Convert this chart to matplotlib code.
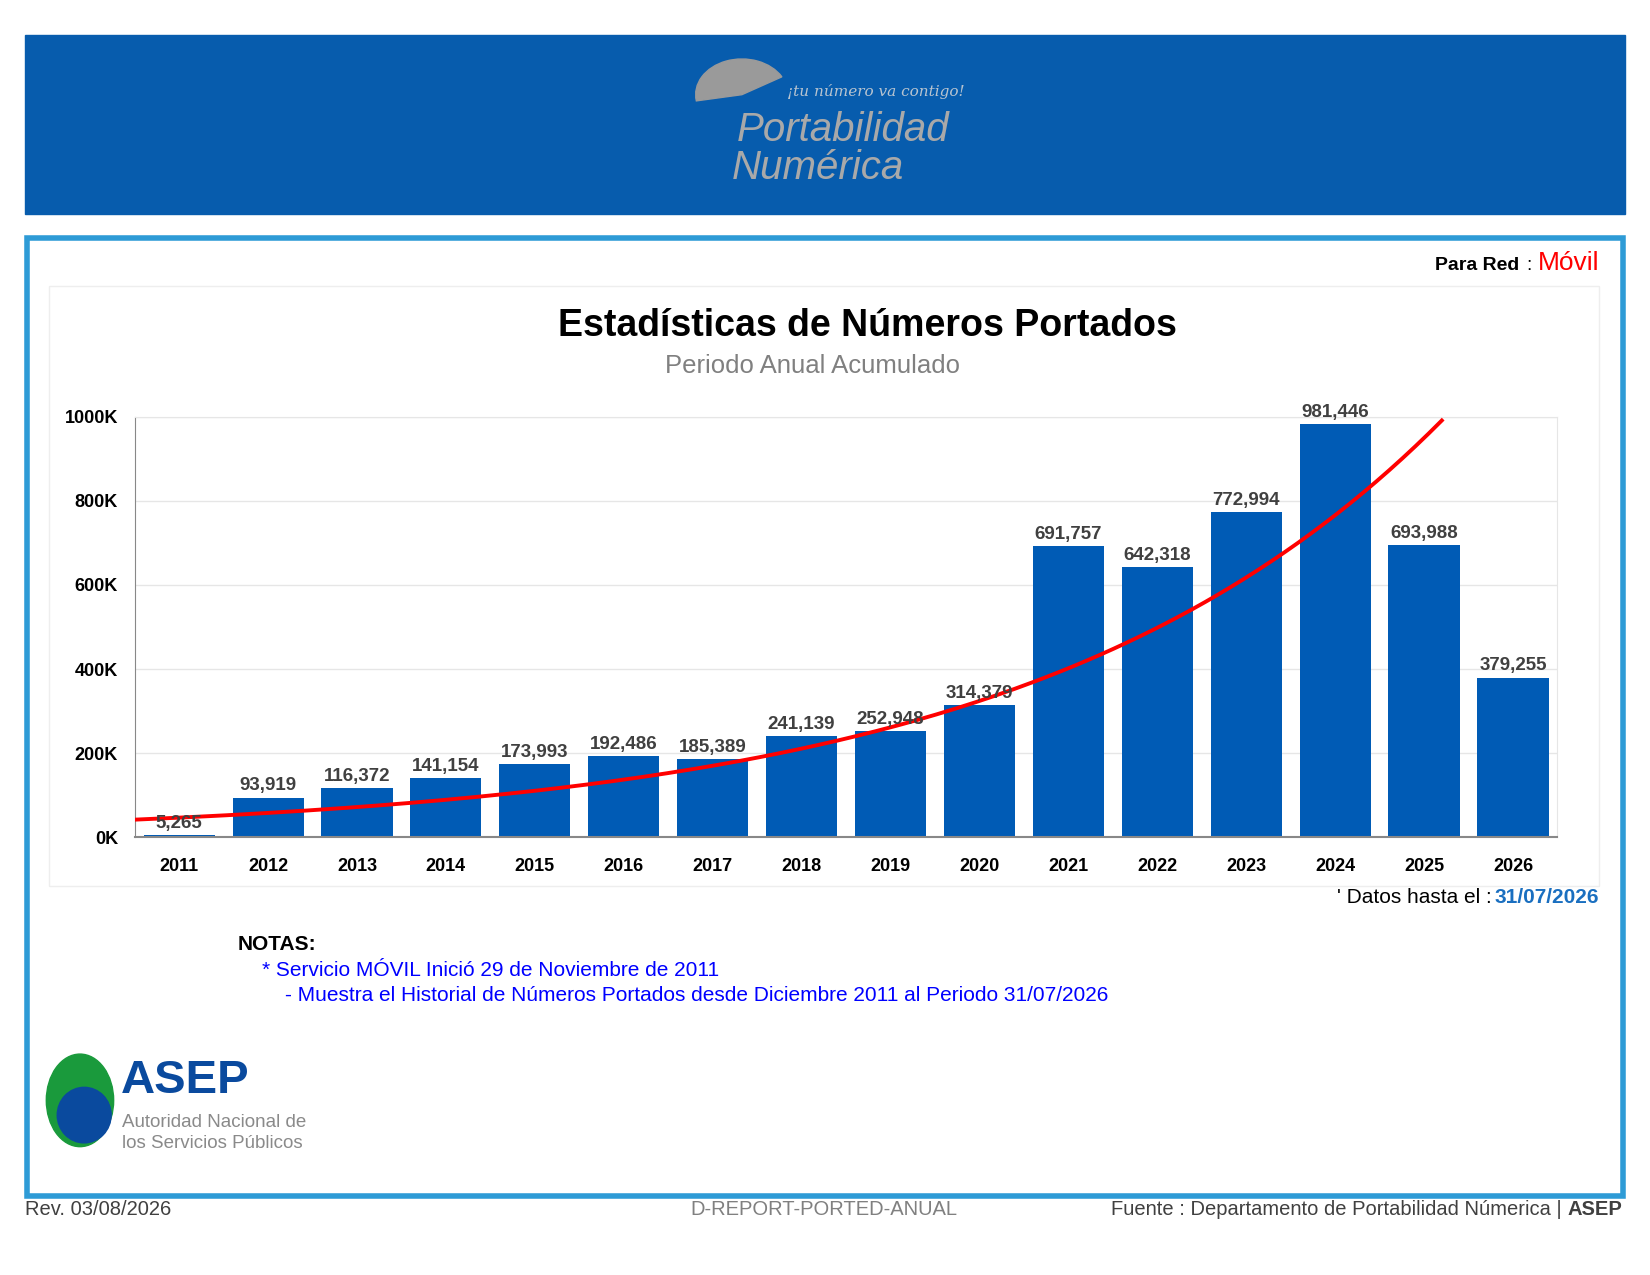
import numpy as np
import matplotlib
matplotlib.use("Agg")
import matplotlib.pyplot as plt
from matplotlib.patches import Rectangle, Ellipse, Wedge

plt.rcParams['font.family'] = ['Liberation Sans', 'DejaVu Sans']

years = ["2011","2012","2013","2014","2015","2016","2017","2018","2019","2020","2021","2022","2023","2024","2025","2026"]
values = [5265,93919,116372,141154,173993,192486,185389,241139,252948,314379,691757,642318,772994,981446,693988,379255]
yticks = [0,200000,400000,600000,800000,1000000]
ytick_labels = ["0K","200K","400K","600K","800K","1000K"]

W, H = 1568, 1212
def fx(x): return x / W
def fy(y): return 1 - y / H

fig = plt.figure(figsize=(16.5, 12.75), dpi=100)
fig.patch.set_facecolor("white")

# header
fig.add_artist(Rectangle((fx(24), fy(203)), fx(1544)-fx(24), fy(33)-fy(203),
                         transform=fig.transFigure, color="#075cad", zorder=0))
fig.text(fx(748), fy(87), "¡tu número va contigo!", color="#b8c4d0", fontsize=11,
         family="DejaVu Serif", style="italic", va="center")
fig.text(fx(700), fy(124), "Portabilidad", color="#a9a9a9", fontsize=29, style="italic", va="center")
fig.text(fx(695), fy(160), "Numérica", color="#a9a9a9", fontsize=29, style="italic", va="center")
fig.add_artist(Wedge((fx(705), fy(90)), 0.028, 30, 190, transform=fig.transFigure,
                     color="#9a9a9a", zorder=1))

# frames
fig.add_artist(Rectangle((fx(26), fy(1137)), fx(1542)-fx(26), fy(226)-fy(1137),
                         transform=fig.transFigure, fill=False, ec="#2e9bd6", lw=4))
fig.add_artist(Rectangle((fx(47), fy(842)), fx(1520)-fx(47), fy(272)-fy(842),
                         transform=fig.transFigure, fill=False, ec="#eeeeee", lw=1))

fig.text(fx(1444), fy(252), "Para Red", fontsize=14, fontweight="bold", ha="right", va="center")
fig.text(fx(1450), fy(252), ":", fontsize=14, ha="left", va="center")
fig.text(fx(1520), fy(250), "Móvil", fontsize=19, color="#ff0000", ha="right", va="center")

fig.text(fx(824), fy(310), "Estadísticas de Números Portados", fontsize=27,
         fontweight="bold", ha="center", va="center")
fig.text(fx(772), fy(348), "Periodo Anual Acumulado", fontsize=18.5, color="#808080",
         ha="center", va="center")

ax = fig.add_axes([fx(128), fy(796), fx(1480)-fx(128), fy(396)-fy(796)])
x = np.arange(len(years))
ax.bar(x, values, width=0.8, color="#005bb5", zorder=2)
for xi, v in zip(x, values):
    ax.text(xi, v + 8000, f"{v:,}", ha="center", va="bottom", fontsize=13.5,
            fontweight="bold", color="#404040", zorder=4)
# exponential trend line (least squares on log values)
coef = np.polyfit(x, np.log(values), 1)
xt = np.linspace(-0.5, 14.2, 200)
ax.plot(xt, np.exp(np.polyval(coef, xt)), color="#ff0000", lw=2.8, zorder=3)
ax.set_xlim(-0.5, len(years) - 0.5)
ax.set_ylim(0, 1000000)
ax.set_yticks(yticks)
ax.set_yticklabels(ytick_labels, fontsize=13, fontweight="bold")
ax.set_xticks(x)
ax.set_xticklabels(years, fontsize=13, fontweight="bold")
ax.tick_params(axis="y", length=0, pad=12)
ax.tick_params(axis="x", length=0, pad=15)
ax.grid(axis="y", color="#e6e6e6", lw=1, zorder=0)
for s in ["top", "right"]:
    ax.spines[s].set_color("#e6e6e6")
ax.spines["left"].set_color("#888888")
ax.spines["bottom"].set_color("#888888")
ax.spines["bottom"].set_linewidth(1.5)

fig.text(fx(1418), fy(853), "' Datos hasta el :", fontsize=15, ha="right", va="center")
fig.text(fx(1520), fy(853), "31/07/2026", fontsize=15, fontweight="bold", color="#1a6fc0",
         ha="right", va="center")

fig.text(fx(226), fy(898), "NOTAS:", fontsize=15, fontweight="bold", va="center")
fig.text(fx(249), fy(923), "* Servicio MÓVIL Inició 29 de Noviembre de 2011", fontsize=15,
         color="#0000ff", va="center")
fig.text(fx(271), fy(946), "- Muestra el Historial de Números Portados desde Diciembre 2011 al Periodo 31/07/2026",
         fontsize=15, color="#0000ff", va="center")

# ASEP logo
ew = fx(64)
eh = 88 / H
fig.add_artist(Ellipse((fx(76), fy(1046)), ew, eh, transform=fig.transFigure, color="#1a9a3c"))
fig.add_artist(Ellipse((fx(80), fy(1060)), ew * 0.8, eh * 0.6, transform=fig.transFigure, color="#0a4a9e"))
fig.text(fx(115), fy(1028), "ASEP", fontsize=34, fontweight="bold", color="#0a4a9e", va="center")
fig.text(fx(116), fy(1067), "Autoridad Nacional de", fontsize=13.5, color="#8a8a8a", va="center")
fig.text(fx(116), fy(1087), "los Servicios Públicos", fontsize=13.5, color="#8a8a8a", va="center")

fig.text(fx(24), fy(1150), "Rev. 03/08/2026", fontsize=14.5, color="#404040", va="center")
fig.text(fx(783), fy(1150), "D-REPORT-PORTED-ANUAL", fontsize=14.5, color="#808080",
         ha="center", va="center")
fig.text(fx(1484), fy(1150), "Fuente : Departamento de Portabilidad Númerica |", fontsize=14.5,
         color="#404040", ha="right", va="center")
fig.text(fx(1542), fy(1150), "ASEP", fontsize=14.5, fontweight="bold", color="#404040",
         ha="right", va="center")

fig.savefig("out.png", dpi=100)
